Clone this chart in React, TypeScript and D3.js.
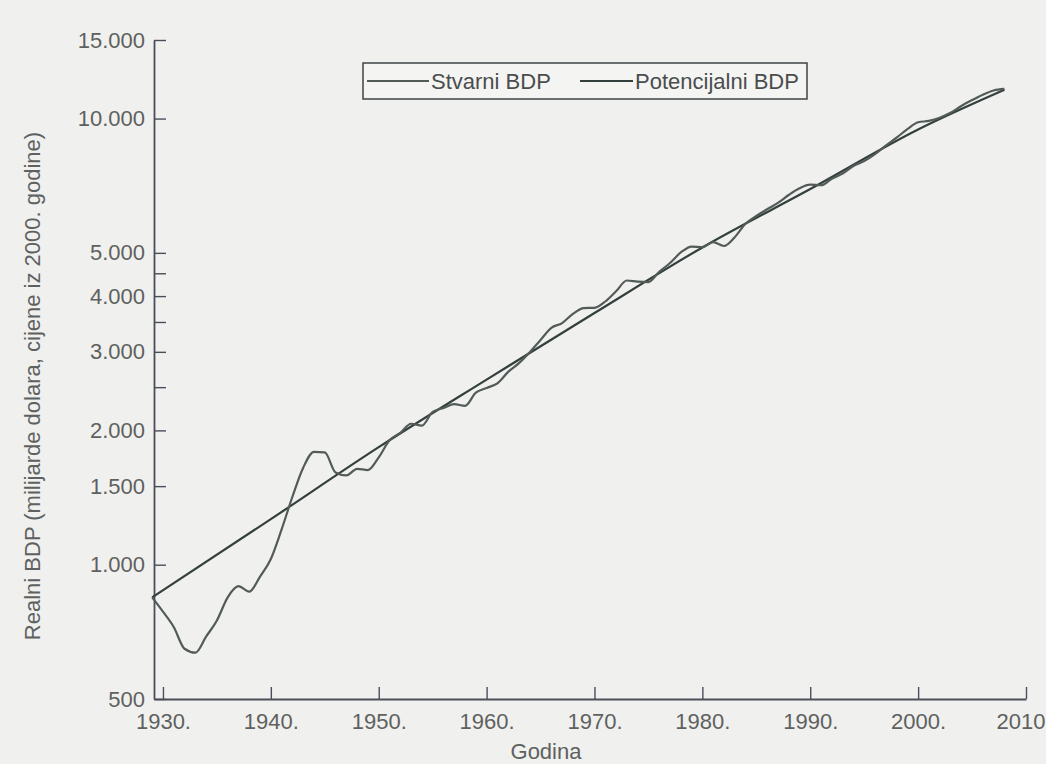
import React, { useEffect, useRef } from 'react';
import * as d3 from 'd3';

const years = [
  1929, 1930, 1931, 1932, 1933, 1934, 1935, 1936, 1937, 1938,
  1939, 1940, 1941, 1942, 1943, 1944, 1945, 1946, 1947, 1948,
  1949, 1950, 1951, 1952, 1953, 1954, 1955, 1956, 1957, 1958,
  1959, 1960, 1961, 1962, 1963, 1964, 1965, 1966, 1967, 1968,
  1969, 1970, 1971, 1972, 1973, 1974, 1975, 1976, 1977, 1978,
  1979, 1980, 1981, 1982, 1983, 1984, 1985, 1986, 1987, 1988,
  1989, 1990, 1991, 1992, 1993, 1994, 1995, 1996, 1997, 1998,
  1999, 2000, 2001, 2002, 2003, 2004, 2005, 2006, 2007, 2008,
];
const actualGdp = [
  845, 785, 725, 648, 635, 690, 750, 845, 895, 870,
  940, 1030, 1200, 1420, 1650, 1790, 1785, 1610, 1585, 1640,
  1630, 1740, 1900, 1975, 2070, 2050, 2200, 2245, 2290, 2270,
  2430, 2490, 2550, 2705, 2830, 2995, 3190, 3395, 3480, 3650,
  3760, 3765, 3890, 4100, 4335, 4310, 4300, 4535, 4745, 5010,
  5165, 5150, 5285, 5180, 5420, 5810, 6050, 6260, 6470, 6740,
  6980, 7110, 7090, 7330, 7530, 7830, 8030, 8325, 8700, 9060,
  9465, 9810, 9880, 10040, 10300, 10670, 11000, 11310, 11560, 11650,
];
const potentialYears = [1929, 1940, 1950, 1960, 1970, 1980, 1990, 2000, 2008];
const potentialGdp = [845, 1265, 1834, 2600, 3666, 5141, 6950, 9450, 11600];

const yTicks = [500, 1000, 1500, 2000, 2500, 3000, 3500, 4000, 4500, 5000, 10000, 15000];
const yLabelled = [500, 1000, 1500, 2000, 3000, 4000, 5000, 10000, 15000];
const xTicks = [1930, 1940, 1950, 1960, 1970, 1980, 1990, 2000, 2010];
const seriesNames = ['Stvarni BDP', 'Potencijalni BDP'];

const FONT = '"Liberation Sans", Arial, Helvetica, sans-serif';
const FS = 22;

const App = () => {
  const d3Container = useRef<SVGSVGElement>(null);

  useEffect(() => {
    if (!d3Container.current) return;
    const svg = d3.select(d3Container.current);
    svg.selectAll('*').remove();

    // paper background
    svg.append('rect')
      .attr('width', 1046)
      .attr('height', 764)
      .attr('fill', '#f0f0ee');

    const hr = d3.formatLocale({ decimal: ',', thousands: '.', grouping: [3], currency: ['', ''] });
    const fmt = hr.format(',');

    const x = d3.scaleLinear().domain([1929.17, 2010]).range([154, 1026]);
    const y = d3.scaleLog().domain([500, 15000]).range([699, 40]);
    const lastYear = xTicks[xTicks.length - 1];

    // Y axis
    const yAxis = svg.append('g')
      .attr('transform', `translate(${x.range()[0]},0)`)
      .call(
        d3.axisLeft(y)
          .tickValues(yTicks)
          .tickSizeInner(-12)
          .tickSizeOuter(0)
          .tickPadding(9)
          .tickFormat((d: any) => (yLabelled.includes(+d) ? fmt(+d) : ''))
      );

    // X axis
    const xAxis = svg.append('g')
      .attr('transform', `translate(0,${y.range()[0]})`)
      .call(
        d3.axisBottom(x)
          .tickValues(xTicks)
          .tickSizeInner(-12)
          .tickSizeOuter(0)
          .tickPadding(14)
          .tickFormat((d: any) => (+d === lastYear ? `${d}` : `${d}.`))
      );

    // last year label sits against the right edge of the page
    xAxis.selectAll<SVGTextElement, number>('.tick text')
      .filter(d => d === lastYear)
      .attr('text-anchor', 'end')
      .attr('x', 1045 - x(lastYear));

    [yAxis, xAxis].forEach(ax => {
      ax.attr('font-family', FONT).attr('font-size', FS);
      ax.select('.domain').attr('stroke', '#4a4e5a').attr('stroke-width', 1.8);
      ax.selectAll('.tick line').attr('stroke', '#4a4e5a').attr('stroke-width', 1.4);
      ax.selectAll('.tick text').attr('fill', '#5e6160');
    });

    // lines
    const line = d3.line<[number, number]>()
      .x(d => x(d[0]))
      .y(d => y(d[1]))
      .curve(d3.curveMonotoneX);

    svg.append('path')
      .datum(potentialYears.map((yr, i) => [yr, potentialGdp[i]] as [number, number]))
      .attr('d', line)
      .attr('fill', 'none')
      .attr('stroke', '#34403d')
      .attr('stroke-width', 2.2);

    svg.append('path')
      .datum(years.map((yr, i) => [yr, actualGdp[i]] as [number, number]))
      .attr('d', line)
      .attr('fill', 'none')
      .attr('stroke', '#535b59')
      .attr('stroke-width', 2.2);

    // axis titles
    svg.append('text')
      .attr('transform', 'translate(32,386) rotate(-90)')
      .attr('text-anchor', 'middle')
      .attr('dominant-baseline', 'central')
      .attr('font-family', FONT)
      .attr('font-size', FS)
      .attr('fill', '#5e6160')
      .text('Realni BDP (milijarde dolara, cijene iz 2000. godine)');

    svg.append('text')
      .attr('x', 546)
      .attr('y', 759)
      .attr('text-anchor', 'middle')
      .attr('font-family', FONT)
      .attr('font-size', FS)
      .attr('fill', '#5e6160')
      .text('Godina');

    // legend
    const legend = svg.append('g');
    legend.append('rect')
      .attr('x', 363)
      .attr('y', 63)
      .attr('width', 444)
      .attr('height', 36)
      .attr('fill', '#f4f4f2')
      .attr('stroke', '#3e4346')
      .attr('stroke-width', 1.5);

    const legendItems = [
      { x1: 367, x2: 429, color: '#535b59' },
      { x1: 580, x2: 633, color: '#34403d' },
    ];
    legendItems.forEach((item, i) => {
      legend.append('line')
        .attr('x1', item.x1)
        .attr('x2', item.x2)
        .attr('y1', 81)
        .attr('y2', 81)
        .attr('stroke', item.color)
        .attr('stroke-width', 2);
      legend.append('text')
        .attr('x', item.x2 + 2)
        .attr('y', 81)
        .attr('dominant-baseline', 'central')
        .attr('font-family', FONT)
        .attr('font-size', FS)
        .attr('fill', '#4a4d4e')
        .text(seriesNames[i]);
    });
  }, []);

  return (
    <svg
      ref={d3Container}
      width={1046}
      height={764}
      style={{ position: 'absolute', left: 0, top: 0, display: 'block' }}
    />
  );
};

export default App;
